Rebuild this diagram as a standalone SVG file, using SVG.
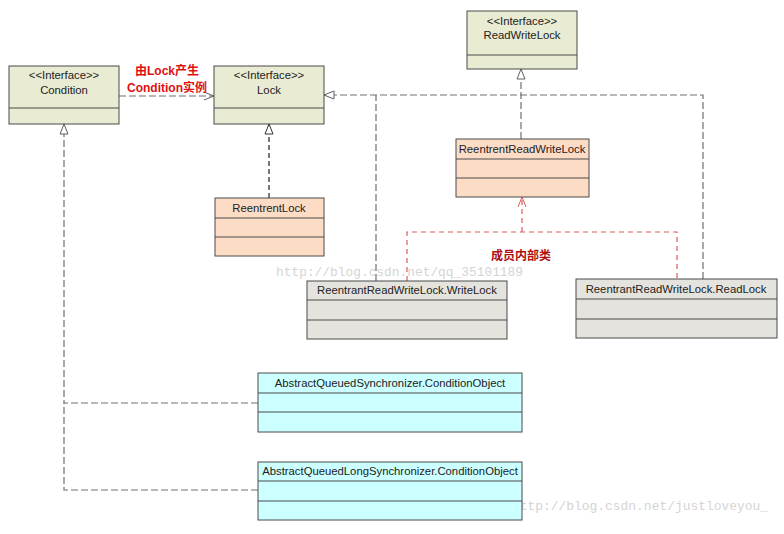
<svg xmlns="http://www.w3.org/2000/svg" width="784" height="534" viewBox="0 0 784 534">
<style>
  .box { stroke: #4a4a4a; stroke-width: 1; }
  .div { stroke: #4a4a4a; stroke-width: 1; fill: none; }
  .iface { fill: #e9ebd2; }
  .impl { fill: #fddcc6; }
  .inner { fill: #e5e3dd; }
  .cond { fill: #ccffff; }
  .t { font-family: "Liberation Sans", Arial, sans-serif; font-size: 11.3px; fill: #222; text-anchor: middle; dominant-baseline: central; }
  .lbl { font-family: "Liberation Sans", "Noto Sans CJK SC", sans-serif; font-size: 12px; font-weight: bold; text-anchor: middle; dominant-baseline: central; }
  .wm { font-family: "Liberation Mono", monospace; font-size: 13px; fill: #d4d4d4; dominant-baseline: central; }
  .dash { fill: none; stroke: #707070; stroke-width: 1.2; stroke-dasharray: 7 3; }
  .dashk { fill: none; stroke: #202020; stroke-width: 1.2; stroke-dasharray: 5 3; }
  .dashr { fill: none; stroke: #e05a5a; stroke-width: 1.2; stroke-dasharray: 5 4; }
</style>
<defs>
  <marker id="tri" markerUnits="userSpaceOnUse" markerWidth="14" markerHeight="12" refX="11" refY="4.5" orient="auto" overflow="visible">
    <path d="M1,0.5 L11,4.5 L1,8.5 Z" fill="#fff" stroke="#606060" stroke-width="1"/>
  </marker>
  <marker id="triK" markerUnits="userSpaceOnUse" markerWidth="14" markerHeight="12" refX="11" refY="4.5" orient="auto" overflow="visible">
    <path d="M1,0.5 L11,4.5 L1,8.5 Z" fill="#fff" stroke="#303030" stroke-width="1"/>
  </marker>
  <marker id="open" markerUnits="userSpaceOnUse" markerWidth="14" markerHeight="12" refX="11" refY="4.5" orient="auto" overflow="visible">
    <path d="M1,0.5 L11,4.5 L1,8.5" fill="none" stroke="#606060" stroke-width="1"/>
  </marker>
  <marker id="openR" markerUnits="userSpaceOnUse" markerWidth="14" markerHeight="12" refX="11" refY="4.5" orient="auto" overflow="visible">
    <path d="M1,0.5 L11,4.5 L1,8.5" fill="none" stroke="#e05a5a" stroke-width="1"/>
  </marker>
</defs>
<rect width="784" height="534" fill="#ffffff"/>

<text class="wm" x="276" y="272" textLength="247" lengthAdjust="spacingAndGlyphs">http://blog.csdn.net/qq_35101189</text>
<text class="wm" x="512" y="506" textLength="256" lengthAdjust="spacingAndGlyphs">http://blog.csdn.net/justloveyou_</text>

<g id="connectors">
  <path class="dash" d="M119,96 H214" marker-end="url(#open)"/>
  <path class="dashk" d="M269,198 V124" marker-end="url(#triK)"/>
  <path class="dash" d="M703,279 V95 H324" marker-end="url(#tri)"/>
  <path class="dash" d="M376,281 V95"/>
  <path class="dash" d="M521,139 V69" marker-end="url(#tri)"/>
  <path class="dashr" d="M407,281 V232 H677 V279"/>
  <path class="dashr" d="M522,232 V197" marker-end="url(#openR)"/>
  <path class="dash" d="M258,403 H64 V124" marker-end="url(#tri)"/>
  <path class="dash" d="M258,490 H64 V403"/>
  <text class="lbl" x="167" y="71" fill="#e01010">由Lock产生</text>
  <text class="lbl" x="167" y="88" fill="#e01010">Condition实例</text>
  <text class="lbl" x="521" y="256" fill="#b01010">成员内部类</text>
</g>

<g id="Condition">
  <rect class="box iface" x="9" y="66" width="110" height="58"/>
  <path class="div" d="M9,108 H119"/>
  <text class="t" x="64" y="75">&lt;&lt;Interface&gt;&gt;</text>
  <text class="t" x="64" y="90">Condition</text>
</g>

<g id="Lock">
  <rect class="box iface" x="214" y="66" width="110" height="58"/>
  <path class="div" d="M214,108 H324"/>
  <text class="t" x="269" y="75">&lt;&lt;Interface&gt;&gt;</text>
  <text class="t" x="269" y="90">Lock</text>
</g>

<g id="ReadWriteLock">
  <rect class="box iface" x="467" y="11" width="110" height="58"/>
  <path class="div" d="M467,55 H577"/>
  <text class="t" x="522" y="21">&lt;&lt;Interface&gt;&gt;</text>
  <text class="t" x="522" y="35">ReadWriteLock</text>
</g>

<g id="ReentrantReadWriteLock">
  <rect class="box impl" x="456" y="139" width="133" height="58"/>
  <path class="div" d="M456,159 H589 M456,178 H589"/>
  <text class="t" x="522" y="149">ReentrentReadWriteLock</text>
</g>

<g id="ReentrantLock">
  <rect class="box impl" x="215" y="198" width="109" height="58"/>
  <path class="div" d="M215,218 H324 M215,237 H324"/>
  <text class="t" x="269" y="208">ReentrentLock</text>
</g>

<g id="WriteLock">
  <rect class="box inner" x="307" y="281" width="200" height="58"/>
  <path class="div" d="M307,300 H507 M307,320 H507"/>
  <text class="t" x="407" y="290">ReentrantReadWriteLock.WriteLock</text>
</g>

<g id="ReadLock">
  <rect class="box inner" x="576" y="279" width="201" height="59"/>
  <path class="div" d="M576,299 H777 M576,319 H777"/>
  <text class="t" x="676" y="289">ReentrantReadWriteLock.ReadLock</text>
</g>

<g id="AQSConditionObject">
  <rect class="box cond" x="258" y="373" width="264" height="59"/>
  <path class="div" d="M258,393 H522 M258,412 H522"/>
  <text class="t" x="390" y="383">AbstractQueuedSynchronizer.ConditionObject</text>
</g>

<g id="AQLSConditionObject">
  <rect class="box cond" x="258" y="462" width="264" height="58"/>
  <path class="div" d="M258,481 H522 M258,501 H522"/>
  <text class="t" x="390" y="471">AbstractQueuedLongSynchronizer.ConditionObject</text>
</g>
</svg>
